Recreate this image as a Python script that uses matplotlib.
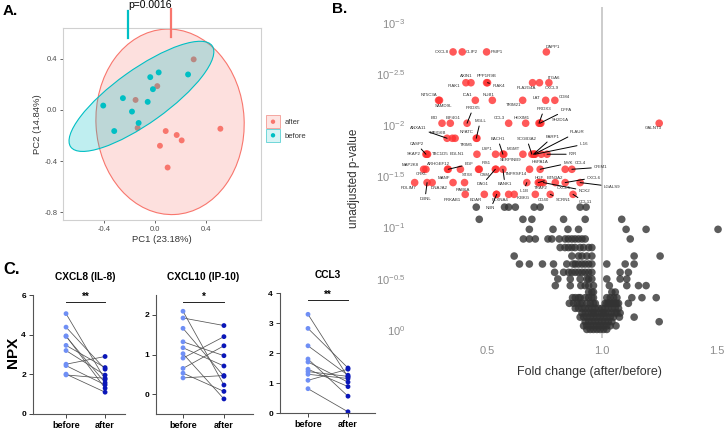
import numpy as np
import matplotlib.pyplot as plt
from matplotlib.patches import Ellipse, Rectangle
import matplotlib.transforms as mtransforms

plt.rcParams['font.family'] = ['Liberation Sans', 'DejaVu Sans']
plt.rcParams['mathtext.default'] = 'regular'

W, H = 726, 429

# ---------------- data ----------------
# A. PCA scores
pca_before_x = [-0.405, -0.319, -0.251, -0.180, -0.128, -0.057, -0.037, -0.016, 0.029, 0.259]
pca_before_y = [0.034, -0.165, 0.092, -0.013, -0.102, 0.063, 0.256, 0.162, 0.293, 0.277]
pca_after_x = [0.303, 0.018, -0.152, -0.136, 0.084, 0.170, 0.209, 0.039, 0.099, 0.512]
pca_after_y = [0.395, 0.186, 0.078, -0.141, -0.165, -0.196, -0.238, -0.280, -0.450, -0.147]
# confidence ellipses: center x, center y, width, height, angle
ell_before = (-0.106, 0.106, 1.36, 0.42, 35.5)
ell_after = (0.118, -0.093, 1.16, 1.45, 3)

# B. volcano - significant proteins
sig_genes = ['CXCL8', 'CLIP2', 'PSIP1', 'DAPP1', 'AXIN1', 'IRAK1', 'PPP1R9B', 'IRAK4', 'PLA2G4A', 'CXCL9',
             'ITGA6', 'NT5C3A', 'SAMD9L', 'ICA1', 'NUB1', 'TRIM21', 'LAT', 'CD84', 'BID', 'EIF4G1',
             'PRDX5', 'CCL3', 'HEXIM1', 'PRDX3', 'DFFA', 'SH2D1A', 'GALNT3', 'ANXA11', 'MPIG6B', 'TRIM5',
             'MGLL', 'NFATC', 'CASP2', 'SKAP2', 'TBC1D5', 'EGLN1', 'LSP1', 'BACH1', 'SERPINB9', 'MGMT',
             'SCGB3A2', 'PARP1', 'PLAUR', 'IL16', 'F2R', 'MAP2K8', 'CRKL', 'ARHGEF12', 'EGF', 'STX8',
             'FIS1', 'OSM', 'DAG1', 'TNFRSF14', 'BANK1', 'HSPA1A', 'MVK', 'CCL4', 'CRIM1', 'PDLIM7',
             'DBNL', 'DNAJA2', 'MANF', 'RAB6A', 'IL1B', 'BTN3A2', 'HGF', 'TRAF2', 'NCK2', 'CXCL5',
             'CXCL6', 'LGALS9', 'PRKAB1', 'EDAR', 'PLXNA4', 'NBN', 'IKBKG', 'CD40', 'SCRN1', 'CCL11']
sig_fc = [0.351, 0.391, 0.497, 0.757, 0.407, 0.429, 0.497, 0.501, 0.697, 0.727,
          0.768, 0.288, 0.292, 0.448, 0.522, 0.654, 0.754, 0.794, 0.303, 0.339,
          0.412, 0.593, 0.667, 0.725, 0.729, 0.733, 1.248, 0.325, 0.348, 0.360,
          0.452, 0.455, 0.233, 0.237, 0.240, 0.455, 0.536, 0.568, 0.572, 0.655,
          0.694, 0.701, 0.704, 0.708, 0.760, 0.223, 0.233, 0.327, 0.330, 0.383,
          0.462, 0.465, 0.535, 0.538, 0.568, 0.684, 0.730, 0.839, 0.868, 0.184,
          0.238, 0.260, 0.351, 0.401, 0.672, 0.722, 0.728, 0.733, 0.744, 0.796,
          0.839, 0.904, 0.404, 0.487, 0.539, 0.541, 0.617, 0.709, 0.774, 0.873]
sig_logp = [-2.717, -2.717, -2.717, -2.717, -2.416, -2.416, -2.416, -2.416, -2.416, -2.416,
            -2.416, -2.244, -2.244, -2.244, -2.244, -2.244, -2.244, -2.244, -2.02, -2.02,
            -2.02, -2.02, -2.02, -2.02, -2.02, -2.02, -2.02, -1.873, -1.873, -1.873,
            -1.873, -1.873, -1.717, -1.717, -1.717, -1.717, -1.717, -1.717, -1.717, -1.717,
            -1.717, -1.717, -1.717, -1.717, -1.717, -1.57, -1.57, -1.57, -1.57, -1.57,
            -1.57, -1.57, -1.57, -1.57, -1.57, -1.57, -1.57, -1.57, -1.57, -1.44,
            -1.44, -1.44, -1.44, -1.44, -1.44, -1.44, -1.44, -1.44, -1.44, -1.44,
            -1.44, -1.44, -1.325, -1.325, -1.325, -1.325, -1.325, -1.325, -1.325, -1.325]
sig_extra_fc = [0.735, 0.593]
sig_extra_logp = [-1.717, -1.325]

# label placement (pixel offsets from the dot) and leader-line flag
lab_dx = [-11, 10, 10, 6, 0, -17, 0, 11, -6, 12,
          5, -10, 4, -8, -4, -9, -9, 10, -8, 3,
          6, -9, -4, 5, 26, 19, -6, -29, -15, 11,
          4, -10, -9, -13, 13, -20, -9, -5, 7, -10,
          -5, 19, 43, 49, 26, -14, -4, -9, 21, 7,
          8, 6, -13, 20, 2, 10, 28, 15, 29, -6,
          -2, 7, -9, -2, -3, 17, 0, 0, 41, 8,
          29, 32, -13, -9, 4, -6, 9, 8, 13, 12]
lab_dy = [0, 0, 0, -5, -7, 3, -7, 3, 5, 5,
          -5, -5, 6, -5, -5, 5, -2, -3, -5, -5,
          -15, -5, -5, -14, -13, -3, 5, -10, -5, 7,
          -17, -6, -10, 0, 0, 0, -5, -15, 6, -5,
          -15, -17, -22, -10, 0, -4, 5, -5, -5, 6,
          -6, 6, 15, 5, 15, -7, -6, -6, -2, 5,
          16, 5, -5, 7, 8, -5, -5, 5, 8, 5,
          -5, 4, 6, 6, 6, 14, 4, 6, 6, 8]
lab_seg = [0, 0, 0, 0, 0, 0, 0, 1, 0, 0,
           0, 0, 0, 0, 0, 0, 0, 0, 0, 0,
           1, 0, 0, 1, 1, 0, 0, 1, 0, 0,
           1, 0, 1, 0, 0, 0, 0, 1, 0, 0,
           1, 1, 1, 1, 1, 0, 0, 0, 1, 0,
           0, 0, 1, 0, 1, 0, 1, 0, 1, 0,
           1, 0, 0, 0, 1, 1, 0, 0, 1, 0,
           1, 1, 0, 0, 0, 1, 0, 0, 1, 1]

# B. volcano - non significant proteins, one log10(p) per row
ns_logp_rows = [-1.200, -1.081, -0.983, -0.889, -0.805, -0.722, -0.644, -0.563, -0.498, -0.433,
                -0.370, -0.315, -0.260, -0.211, -0.165, -0.125, -0.080, -0.040, -0.005]
ns_fc_rows = [
    [0.452, 0.575, 0.593, 0.622, 0.704, 0.730, 0.904, 0.930],
    [0.465, 0.655, 0.694, 0.832, 0.926, 1.085],
    [0.683, 0.786, 0.851, 0.897, 1.104, 1.191, 1.504],
    [0.657, 0.683, 0.709, 0.764, 0.781, 0.813, 0.839, 0.853, 0.868, 0.882, 0.897, 0.912, 0.926, 1.122],
    [0.817, 0.838, 0.853, 0.868, 0.882, 0.904, 0.919, 0.941, 0.955],
    [0.617, 0.868, 0.897, 0.912, 0.933, 0.955, 1.139, 1.252],
    [0.640, 0.683, 0.740, 0.788, 0.846, 0.873, 0.883, 0.897, 0.912, 0.926, 0.941, 0.955, 1.020, 1.100, 1.139],
    [0.793, 0.832, 0.854, 0.868, 0.883, 0.897, 0.912, 0.926, 0.941, 0.955, 1.078, 1.114],
    [0.807, 0.861, 0.904, 0.933, 0.941, 0.955, 1.020, 1.078, 1.107],
    [0.796, 0.861, 0.907, 0.926, 0.941, 0.962, 1.031, 1.107, 1.158, 1.191],
    [0.941, 0.955, 0.962, 1.042, 1.057],
    [0.871, 0.883, 0.897, 0.904, 0.926, 0.941, 0.955, 0.962, 1.020, 1.035, 1.050, 1.064, 1.129, 1.173, 1.235],
    [0.857, 0.875, 0.890, 0.904, 0.912, 0.933, 0.948, 0.962, 0.970, 1.013, 1.020, 1.027, 1.035, 1.042,
     1.050, 1.057, 1.064, 1.071, 1.114],
    [0.883, 0.897, 0.912, 0.926, 0.941, 0.955, 0.970, 0.984, 0.999, 1.013, 1.027, 1.042, 1.057, 1.071],
    [0.912, 0.926, 0.941, 0.955, 0.962, 0.970, 0.984, 0.999, 1.006, 1.013, 1.027, 1.042, 1.057, 1.064, 1.078],
    [0.904, 0.919, 0.933, 0.948, 0.962, 0.977, 0.991, 1.006, 1.020, 1.035, 1.049, 1.075, 1.139],
    [0.926, 0.941, 0.955, 0.970, 0.984, 0.999, 1.013, 1.027, 1.042, 1.248],
    [0.919, 0.933, 0.948, 0.962, 0.977, 0.991, 1.006, 1.020, 1.035, 1.060],
    [0.933, 0.948, 0.962, 0.977, 0.991, 1.006, 1.020],
]
vol_yticks = [-3, -2.5, -2, -1.5, -1, -0.5, 0]
vol_yticklabels = ['$10^{-3}$', '$10^{-2.5}$', '$10^{-2}$', '$10^{-1.5}$', '$10^{-1}$', '$10^{-0.5}$', '$10^{0}$']

# C. paired NPX values
cxcl8_before = [5.06, 4.38, 3.94, 3.91, 3.46, 3.20, 2.51, 2.44, 2.01, 1.97]
cxcl8_after = [1.74, 2.26, 1.30, 1.58, 2.34, 1.96, 2.90, 1.47, 1.10, 1.80]
cxcl10_before = [2.09, 1.92, 1.66, 1.32, 1.17, 1.02, 0.91, 0.65, 0.53, 0.41]
cxcl10_after = [0.23, 1.73, 0.45, 0.97, 0.71, -0.12, 1.45, 1.22, 0.07, 0.47]
ccl3_before = [3.29, 2.82, 2.24, 1.80, 1.70, 1.46, 1.38, 1.29, 1.09, 0.81]
ccl3_after = [1.20, 1.50, 1.26, 0.56, 1.03, 0.88, 1.22, 1.15, 1.46, 0.04]
c_titles = ['CXCL8 (IL-8)', 'CXCL10 (IP-10)', 'CCL3']
c_stars = ['**', '*', '**']
c_bar_y = [5.67, 2.33, 3.76]


def rect(x0, y0, x1, y1):
    return [x0 / W, 1 - y1 / H, (x1 - x0) / W, (y1 - y0) / H]


fig = plt.figure(figsize=(W / 100, H / 100), dpi=100)

# ---------------- panel A ----------------
red = '#F8766D'
teal = '#00BFC4'
axA = fig.add_axes(rect(63, 28, 261, 220))
cx, cy, w, h, a = ell_after
axA.add_patch(Ellipse((cx, cy), w, h, angle=a, facecolor=red, alpha=0.22, edgecolor='none', zorder=1))
axA.add_patch(Ellipse((cx, cy), w, h, angle=a, facecolor='none', edgecolor=red, lw=0.8, zorder=1))
axA.scatter(pca_after_x, pca_after_y, s=18, color=red, edgecolors='none', zorder=2)
cx, cy, w, h, a = ell_before
axA.add_patch(Ellipse((cx, cy), w, h, angle=a, facecolor=teal, alpha=0.25, edgecolor='none', zorder=3))
axA.add_patch(Ellipse((cx, cy), w, h, angle=a, facecolor='none', edgecolor=teal, lw=0.8, zorder=3))
axA.scatter(pca_before_x, pca_before_y, s=18, color=teal, edgecolors='none', zorder=4)
axA.set_xlim(-0.72, 0.83)
axA.set_ylim(-0.86, 0.64)
axA.set_xticks([-0.4, 0.0, 0.4])
axA.set_yticks([-0.8, -0.4, 0.0, 0.4])
axA.set_xticklabels(['-0.4', '0.0', '0.4'])
axA.set_yticklabels(['-0.8', '-0.4', '0.0', '0.4'])
axA.tick_params(labelsize=5.5, labelcolor='#4d4d4d', color='#4d4d4d', length=2, width=0.6, pad=2)
for s in axA.spines.values():
    s.set_color('#d0d0d0')
    s.set_linewidth(0.8)
axA.set_xlabel('PC1 (23.18%)', fontsize=6.8, color='#333333', labelpad=2)
axA.set_ylabel('PC2 (14.84%)', fontsize=6.8, color='#333333', labelpad=2)

# ---------------- panel B ----------------
axB = fig.add_axes(rect(408, 7, 724, 338))
axB.axvline(1.0, color='#c8c8c8', lw=1.3, zorder=0)
ns_fc = [v for row in ns_fc_rows for v in row]
ns_logp = [lp for lp, row in zip(ns_logp_rows, ns_fc_rows) for _ in row]
axB.scatter(ns_fc, 10 ** np.array(ns_logp), s=30, color='#333333', alpha=0.8, edgecolors='none', zorder=2)
axB.scatter(sig_fc + sig_extra_fc, 10 ** np.array(sig_logp + sig_extra_logp), s=30,
            color='#ff3030', alpha=0.8, edgecolors='none', zorder=3)
for g, x, lp, dx, dy, sg in zip(sig_genes, sig_fc, sig_logp, lab_dx, lab_dy, lab_seg):
    ap = dict(arrowstyle='-', color='black', lw=0.7, shrinkA=0, shrinkB=0) if sg else None
    axB.annotate(g, xy=(x, 10 ** lp), xytext=(dx, -dy), textcoords='offset pixels',
                 ha='center', va='center', fontsize=3.2, color='#333333', arrowprops=ap, zorder=4)
axB.set_yscale('log')
axB.set_xlim(0.155, 1.53)
axB.set_ylim(10 ** 0.079, 10 ** -3.156)
axB.set_yticks([10 ** v for v in vol_yticks])
axB.set_yticklabels(vol_yticklabels)
axB.yaxis.set_minor_locator(plt.NullLocator())
axB.set_xticks([0.5, 1.0, 1.5])
axB.set_xticklabels(['0.5', '1.0', '1.5'])
axB.tick_params(length=0, labelsize=8, labelcolor='#8c8c8c')
axB.tick_params(axis='x', pad=6)
axB.tick_params(axis='y', pad=2)
for s in axB.spines.values():
    s.set_visible(False)
axB.set_xlabel('Fold change (after/before)', fontsize=9, color='#333333')
axB.xaxis.set_label_coords(0.573, -0.085)
axB.set_ylabel('unadjusted p-value', fontsize=8.5, color='#333333')
axB.yaxis.set_label_coords(-0.152, 0.483)

# ---------------- panel C ----------------
c_rects = [rect(33, 295, 125, 414), rect(156, 295, 253, 414), rect(280, 293, 375, 413)]
c_xlims = [(-0.846, 1.51), (-0.66, 1.71), (-0.7, 1.675)]
c_ylims = [(0, 6), (-0.5, 2.5), (0, 4)]
c_yticks = [[0, 2, 4, 6], [0, 1, 2], [0, 1, 2, 3, 4]]
c_before = [cxcl8_before, cxcl10_before, ccl3_before]
c_after = [cxcl8_after, cxcl10_after, ccl3_after]
for i in range(3):
    ax = fig.add_axes(c_rects[i])
    b = c_before[i]
    af = c_after[i]
    for yb, ya in zip(b, af):
        ax.plot([0, 1], [yb, ya], color='#555555', lw=0.55, zorder=1)
    ax.scatter([0] * len(b), b, s=12, color='#6f8ff5', edgecolors='none', zorder=2, clip_on=False)
    ax.scatter([1] * len(af), af, s=12, color='#0a16b8', edgecolors='none', zorder=2, clip_on=False)
    ax.set_xlim(*c_xlims[i])
    ax.set_ylim(*c_ylims[i])
    ax.set_yticks(c_yticks[i])
    ax.set_xticks([0, 1])
    ax.set_xticklabels(['before', 'after'], fontweight='bold', fontsize=6.5)
    for lab in ax.get_yticklabels():
        lab.set_fontweight('bold')
    ax.tick_params(labelsize=6, length=3, width=0.7, color='#444444', pad=2)
    ax.tick_params(axis='x', labelsize=6.5, pad=2)
    for k in ['top', 'right']:
        ax.spines[k].set_visible(False)
    for k in ['left', 'bottom']:
        ax.spines[k].set_color('#555555')
        ax.spines[k].set_linewidth(0.8)
    ax.plot([0, 1], [c_bar_y[i], c_bar_y[i]], color='#222222', lw=0.7, clip_on=False)
    ax.text(0.5, c_bar_y[i], c_stars[i], ha='center', va='bottom', fontsize=7, fontweight='bold')
    trans = mtransforms.blended_transform_factory(ax.transData, ax.transAxes)
    ax.text(0.5, 1.15, c_titles[i], transform=trans, ha='center', va='center',
            fontsize=7.3, fontweight='bold')

# ---------------- overlay: panel letters, p-value marks, legend ----------------
ov = fig.add_axes([0, 0, 1, 1], zorder=10)
ov.set_xlim(0, W)
ov.set_ylim(H, 0)
ov.axis('off')
ov.text(3, 11, 'A.', fontsize=11, fontweight='bold', va='center', ha='left')
ov.text(332, 9, 'B.', fontsize=11, fontweight='bold', va='center', ha='left')
ov.text(3, 270, 'C.', fontsize=12, fontweight='bold', va='center', ha='left')
ov.text(13, 352, 'NPX', fontsize=11, fontweight='bold', rotation=90, va='center', ha='center')
ov.text(150, 5, 'p=0.0016', fontsize=7.5, ha='center', va='center')
ov.plot([128, 128], [11, 38], color=teal, lw=1.6)
ov.plot([171, 171], [9, 37], color=red, lw=1.6)
ov.add_patch(Rectangle((266, 115), 14, 13, facecolor='#fde4e2', edgecolor='#f4a6a0', lw=0.7))
ov.add_patch(Rectangle((266, 129), 14, 13, facecolor='#d9f4f5', edgecolor='#6fd6d9', lw=0.7))
ov.scatter([273], [121.7], s=10, color=red, edgecolors='none')
ov.scatter([273], [135.3], s=10, color=teal, edgecolors='none')
ov.text(285, 122, 'after', fontsize=5.5, va='center', ha='left', color='#333333')
ov.text(285, 136, 'before', fontsize=5.5, va='center', ha='left', color='#333333')

fig.savefig('out.png', dpi=100)
